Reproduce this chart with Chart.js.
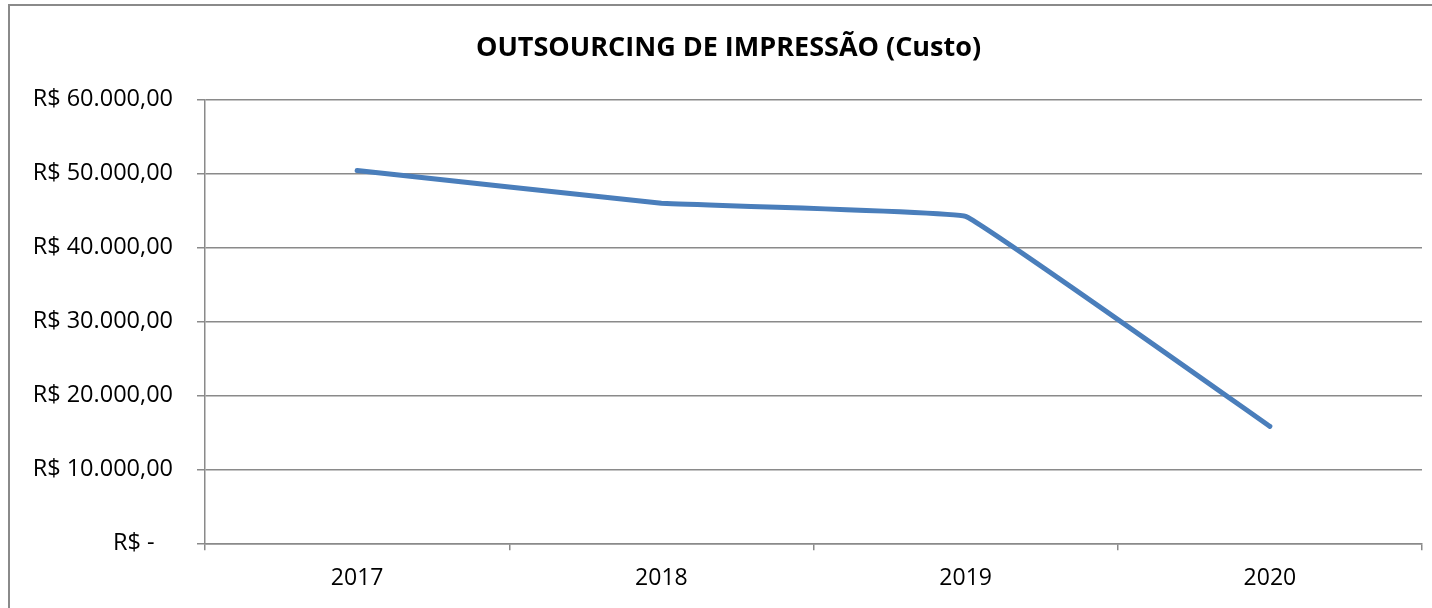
<!DOCTYPE html>
<html>
<head>
<meta charset="utf-8">
<script src="https://cdn.jsdelivr.net/npm/chart.js@4.4.1/dist/chart.umd.min.js"></script>
<style>
  html, body { margin: 0; padding: 0; background: #fff; overflow: hidden; }
  #wrap { position: relative; width: 1432px; height: 608px; }
  #frame { position: absolute; left: 8px; top: 4px; width: 1440px; height: 620px; border: 2px solid #8a8a8a; box-sizing: border-box; }
  canvas { position: absolute; left: 0; top: 0; }
</style>
</head>
<body>
<div id="wrap">
  <div id="frame"></div>
  <canvas id="chart" width="1432" height="608"></canvas>
</div>
<script>
// Chart data
var years = ['2017', '2018', '2019', '2020'];
var custo = [50400, 45950, 44200, 15800];
var yTicks = [0, 10000, 20000, 30000, 40000, 50000, 60000];

// leading spaces nudge the centred title right, like the original frame
var titleText = '     OUTSOURCING DE IMPRESSÃO (Custo)';
var fontFamily = "'Open Sans', 'Noto Sans', sans-serif";

// R$ 50.000,00 style (pt-BR)
function formatReal(v) {
    if (v === 0) return 'R$ -   ';
    var parts = v.toFixed(2).split('.');
    var intPart = parts[0].replace(/\B(?=(\d{3})+(?!\d))/g, '.');
    return 'R$ ' + intPart + ',' + parts[1];
}

var ctx = document.getElementById('chart');
new Chart(ctx, {
    type: 'line',
    data: {
        labels: years,
        datasets: [{
            label: 'Custo',
            data: custo,
            borderColor: '#4a7ebb',
            borderWidth: 5,
            borderCapStyle: 'round',
            borderJoinStyle: 'round',
            pointRadius: 0,
            tension: 0.05,
            fill: false
        }]
    },
    options: {
        responsive: false,
        animation: false,
        layout: { padding: { left: 0, right: 10, top: 0, bottom: 0 } },
        plugins: {
            legend: { display: false },
            tooltip: { enabled: false },
            title: {
                display: true,
                text: titleText,
                color: '#000',
                font: { family: fontFamily, size: 27, weight: 'bold', lineHeight: 1.2 },
                padding: { top: 32, bottom: 35 }
            }
        },
        scales: {
            x: {
                offset: true,
                grid: {
                    offset: true,
                    drawOnChartArea: false,
                    drawTicks: true,
                    tickLength: 7,
                    color: '#8a8a8a',
                    lineWidth: 1.5
                },
                border: { color: '#8a8a8a', width: 1.5 },
                ticks: {
                    color: '#000',
                    padding: 14,
                    font: { family: fontFamily, size: 23 }
                },
                afterFit: function(scale) { scale.height = 64.7; }
            },
            y: {
                min: 0,
                max: 60000,
                afterBuildTicks: function(scale) {
                    scale.ticks = yTicks.map(function(v) { return { value: v }; });
                },
                grid: {
                    color: '#8a8a8a',
                    lineWidth: 1.5,
                    tickLength: 8
                },
                border: { color: '#8a8a8a', width: 1.5 },
                ticks: {
                    color: '#000',
                    padding: 24,
                    font: { family: fontFamily, size: 23.5 },
                    callback: function(value) { return formatReal(value); }
                },
                afterFit: function(scale) { scale.width = 205; }
            }
        }
    }
});
</script>
</body>
</html>
